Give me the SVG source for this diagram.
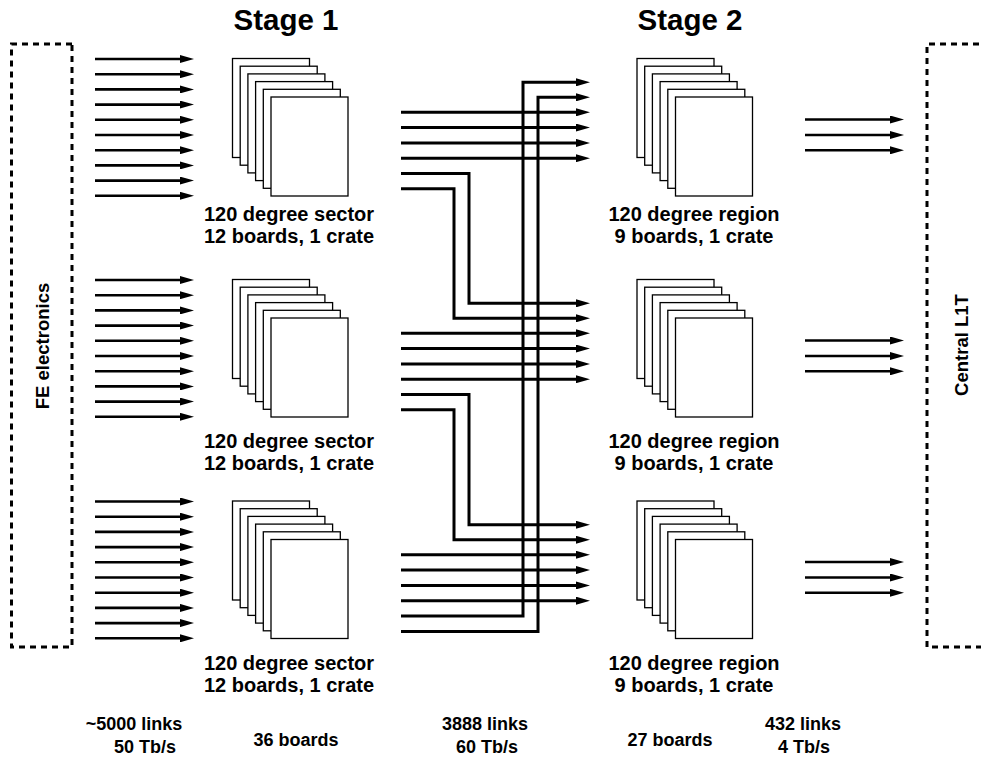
<svg xmlns="http://www.w3.org/2000/svg" width="981" height="760" viewBox="0 0 981 760">
<defs>
<style>
text{font-family:"Liberation Sans",Arial,sans-serif;font-weight:bold;fill:#000}
.title{font-size:29.5px;text-anchor:middle}
.lbl{font-size:20px;text-anchor:middle}
.bot{font-size:18px;text-anchor:middle}
.side{font-size:18.5px;text-anchor:middle}
.box{fill:none;stroke:#000;stroke-width:3;stroke-dasharray:6 5}
.board{fill:#fff;stroke:#000;stroke-width:1.3}
.arr{fill:none;stroke:#000;stroke-width:2.6;marker-end:url(#ah)}
.warr{fill:none;stroke:#000;stroke-width:3;marker-end:url(#ah)}
</style>
<marker id="ah" markerUnits="userSpaceOnUse" viewBox="0 0 14 8" refX="4" refY="4" markerWidth="14" markerHeight="8" orient="auto">
<path d="M0,0 L14,4 L0,8 z" fill="#000"/>
</marker>
<g id="stack">
<rect class="board" x="0" y="0" width="77" height="99"/>
<rect class="board" x="7.7" y="7.7" width="77" height="99"/>
<rect class="board" x="15.4" y="15.4" width="77" height="99"/>
<rect class="board" x="23.1" y="23.1" width="77" height="99"/>
<rect class="board" x="30.8" y="30.8" width="77" height="99"/>
<rect class="board" x="38.5" y="38.5" width="77" height="99"/>
</g>
<g id="inarrows">
<path class="arr" d="M95,59 H184"/>
<path class="arr" d="M95,74.2 H184"/>
<path class="arr" d="M95,89.4 H184"/>
<path class="arr" d="M95,104.6 H184"/>
<path class="arr" d="M95,119.8 H184"/>
<path class="arr" d="M95,135 H184"/>
<path class="arr" d="M95,150.2 H184"/>
<path class="arr" d="M95,165.4 H184"/>
<path class="arr" d="M95,180.6 H184"/>
<path class="arr" d="M95,195.8 H184"/>
</g>
<g id="outarrows">
<path class="arr" d="M805,119.5 H894"/>
<path class="arr" d="M805,135 H894"/>
<path class="arr" d="M805,150.3 H894"/>
</g>
</defs>

<text class="title" x="286" y="30">Stage 1</text>
<text class="title" x="690" y="30">Stage 2</text>

<g id="fe-electronics">
<path class="box" d="M72,44 H11.5 V647 H72 V44"/>
<text class="side" transform="translate(48.5,346) rotate(-90)">FE electronics</text>
</g>

<g id="central-l1t">
<path class="box" d="M990,44 H927 V647 H990"/>
<text class="side" transform="translate(967.5,345) rotate(-90)">Central L1T</text>
</g>

<g id="stage1-sector1">
<use href="#stack" x="232.5" y="58.5"/>
<text class="lbl" x="289" y="221">120 degree sector</text>
<text class="lbl" x="289" y="243">12 boards, 1 crate</text>
</g>
<g id="stage1-sector2">
<use href="#stack" x="232.5" y="279.5"/>
<text class="lbl" x="289" y="448">120 degree sector</text>
<text class="lbl" x="289" y="470">12 boards, 1 crate</text>
</g>
<g id="stage1-sector3">
<use href="#stack" x="232.5" y="501"/>
<text class="lbl" x="289" y="670">120 degree sector</text>
<text class="lbl" x="289" y="692">12 boards, 1 crate</text>
</g>

<g id="stage2-region1">
<use href="#stack" x="637" y="58.5"/>
<text class="lbl" x="694" y="221">120 degree region</text>
<text class="lbl" x="694" y="243">9 boards, 1 crate</text>
</g>
<g id="stage2-region2">
<use href="#stack" x="637" y="279.5"/>
<text class="lbl" x="694" y="448">120 degree region</text>
<text class="lbl" x="694" y="470">9 boards, 1 crate</text>
</g>
<g id="stage2-region3">
<use href="#stack" x="637" y="501"/>
<text class="lbl" x="694" y="670">120 degree region</text>
<text class="lbl" x="694" y="692">9 boards, 1 crate</text>
</g>

<g id="connectors">
<use href="#inarrows" x="0" y="0"/>
<use href="#inarrows" x="0" y="221"/>
<use href="#inarrows" x="0" y="442.5"/>

<path class="warr" d="M401,112.3 H580"/>
<path class="warr" d="M401,127.6 H580"/>
<path class="warr" d="M401,142.9 H580"/>
<path class="warr" d="M401,158.2 H580"/>
<path class="warr" d="M401,173.5 H469 V303.3 H580"/>
<path class="warr" d="M401,188.8 H454 V318.3 H580"/>

<path class="warr" d="M401,333.3 H580"/>
<path class="warr" d="M401,348.6 H580"/>
<path class="warr" d="M401,363.9 H580"/>
<path class="warr" d="M401,379.2 H580"/>
<path class="warr" d="M401,394.5 H469 V524.8 H580"/>
<path class="warr" d="M401,409.8 H454 V539.8 H580"/>

<path class="warr" d="M401,554.8 H580"/>
<path class="warr" d="M401,570.1 H580"/>
<path class="warr" d="M401,585.4 H580"/>
<path class="warr" d="M401,600.7 H580"/>
<path class="warr" d="M401,616 H523 V82.3 H580"/>
<path class="warr" d="M401,631.5 H538 V97.3 H580"/>

<use href="#outarrows" x="0" y="0"/>
<use href="#outarrows" x="0" y="221"/>
<use href="#outarrows" x="0" y="442.5"/>
</g>

<g id="bottom-labels">
<text class="bot" x="134" y="730">~5000 links</text>
<text class="bot" x="145" y="752.5">50 Tb/s</text>
<text class="bot" x="296" y="745.5">36 boards</text>
<text class="bot" x="485" y="730">3888 links</text>
<text class="bot" x="487" y="752.5">60 Tb/s</text>
<text class="bot" x="670" y="745.5">27 boards</text>
<text class="bot" x="803" y="730">432 links</text>
<text class="bot" x="804" y="752.5">4 Tb/s</text>
</g>
</svg>
